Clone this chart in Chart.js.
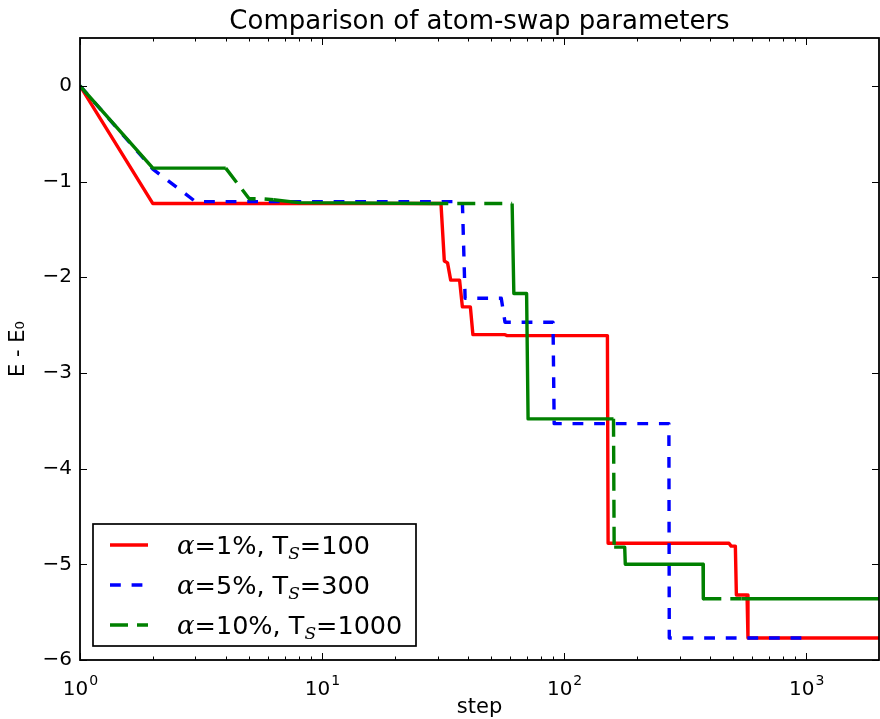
<!DOCTYPE html>
<html>
<head>
<meta charset="utf-8">
<script src="https://cdn.jsdelivr.net/npm/chart.js@4"></script>
<style>
  body { margin: 0; background: #fff; }
  canvas { display: block; }
</style>
</head>
<body>
<canvas class="swapChart" width="880" height="719"></canvas>
<script>
// energy traces (E - E0) against MC step, one per parameter set
const stepsRed = [1, 2, 31, 32, 33, 34, 37, 38, 41, 42, 57, 58, 151, 152, 480, 490, 510, 515, 570, 575, 2000];
const energyRed = [0, -1.23, -1.23, -1.83, -1.85, -2.03, -2.03, -2.31, -2.31, -2.6, -2.6, -2.61, -2.61, -4.78, -4.78, -4.81, -4.81, -5.32, -5.32, -5.77, -5.77];

const stepsBlue = [1, 2, 3, 38, 39, 55, 57, 90, 91, 271, 272, 1000];
const energyBlue = [0, -0.87, -1.21, -1.21, -2.22, -2.22, -2.47, -2.47, -3.53, -3.53, -5.77, -5.77];

const stepsGreen = [1, 2, 4, 5, 5.6, 6.3, 8, 28, 61, 62, 70, 71, 160, 161, 178, 179, 375, 376, 540, 2000];
const energyGreen = [0, -0.86, -0.86, -1.18, -1.18, -1.19, -1.22, -1.23, -1.23, -2.17, -2.17, -3.48, -3.48, -4.82, -4.82, -5.0, -5.0, -5.36, -5.36, -5.36];

const alphaLabels = ["1%", "5%", "10%"];
const tempLabels = ["100", "300", "1000"];

const xTicks = [1, 10, 100, 1000];
const yTicks = [-6, -5, -4, -3, -2, -1, 0];

// where the green trace shows its dash pattern (segment start indices)
const greenDashed = [2, 3, 4, 7, 12, 17];

const SANS = '"DejaVu Sans"';
const toPoints = (xs, ys) => xs.map((x, i) => ({ x, y: ys[i] }));

const colors = ["#ff0000", "#0000ff", "#008000"];
const dashes = [[], [10.8, 10.8], [18, 9]];

const decorations = {
  id: "decorations",
  afterDatasetsDraw(chart) {
    const { ctx, chartArea, scales } = chart;
    const { left, right, top, bottom } = chartArea;
    const x = scales.x;
    const y = scales.y;
    ctx.save();

    const line = (x1, y1, x2, y2) => {
      ctx.beginPath();
      ctx.moveTo(x1, y1);
      ctx.lineTo(x2, y2);
      ctx.stroke();
    };

    // inward ticks on every side
    ctx.strokeStyle = "#000";
    ctx.lineWidth = 1;
    yTicks.forEach((v) => {
      const py = Math.round(y.getPixelForValue(v)) + 0.5;
      line(left, py, left + 7, py);
      line(right, py, right - 7, py);
    });
    for (let d = 1; d < x.max; d *= 10) {
      for (let m = 1; m < 10; m++) {
        const v = d * m;
        if (v >= x.max) break;
        const len = m === 1 ? 7 : 3.5;
        const px = Math.round(x.getPixelForValue(v)) + 0.5;
        line(px, bottom, px, bottom - len);
        line(px, top, px, top + len);
      }
    }

    ctx.lineWidth = 1.8;
    ctx.strokeRect(left, top, right - left, bottom - top);

    // 10^k labels
    ctx.fillStyle = "#000";
    ctx.textBaseline = "alphabetic";
    ctx.textAlign = "left";
    xTicks.forEach((v) => {
      const exp = String(Math.round(Math.log10(v)));
      ctx.font = `20px ${SANS}`;
      const wb = ctx.measureText("10").width;
      ctx.font = `14px ${SANS}`;
      const we = ctx.measureText(exp).width;
      const x0 = x.getPixelForValue(v) - (wb + we) / 2;
      ctx.font = `20px ${SANS}`;
      ctx.fillText("10", x0, 695);
      ctx.font = `14px ${SANS}`;
      ctx.fillText(exp, x0 + wb + 1, 685);
    });

    // title
    ctx.font = `26px ${SANS}`;
    ctx.textAlign = "center";
    ctx.fillText("Comparison of atom-swap parameters", (left + right) / 2, 29);

    // legend
    const box = { x: 93, y: 524, w: 323, h: 122 };
    ctx.fillStyle = "#fff";
    ctx.fillRect(box.x, box.y, box.w, box.h);
    ctx.strokeStyle = "#000";
    ctx.lineWidth = 1.7;
    ctx.strokeRect(box.x, box.y, box.w, box.h);

    chart.data.datasets.forEach((ds, i) => {
      const rowY = box.y + 21 + i * 40;
      ctx.strokeStyle = ds.borderColor;
      ctx.lineWidth = ds.borderWidth;
      ctx.setLineDash(dashes[i]);
      line(110, rowY, 148, rowY);
      ctx.setLineDash([]);

      const parts = [
        { t: "α", font: `italic 26px "DejaVu Serif"`, dy: 0 },
        { t: `=${alphaLabels[i]}, T`, font: `25.5px ${SANS}`, dy: 0 },
        { t: "S", font: `italic 17px "DejaVu Serif"`, dy: 5 },
        { t: `=${tempLabels[i]}`, font: `25.5px ${SANS}`, dy: 0 },
      ];
      let tx = 177;
      ctx.fillStyle = "#000";
      ctx.textAlign = "left";
      parts.forEach((p) => {
        ctx.font = p.font;
        ctx.fillText(p.t, tx, rowY + 9 + p.dy);
        tx += ctx.measureText(p.t).width;
      });
    });

    ctx.restore();
  },
};

const ctx = document.querySelector(".swapChart").getContext("2d");

const chart = new Chart(ctx, {
  type: "line",
  data: {
    datasets: [
      { label: "red", data: toPoints(stepsRed, energyRed), order: 3 },
      { label: "blue", data: toPoints(stepsBlue, energyBlue), order: 2 },
      {
        label: "green",
        data: toPoints(stepsGreen, energyGreen),
        order: 1,
        segment: {
          borderDash: (c) => (greenDashed.includes(c.p0DataIndex) ? dashes[2] : undefined),
        },
      },
    ].map((ds, i) => ({
      borderColor: colors[i],
      borderWidth: 3.4,
      borderDash: i === 1 ? dashes[1] : [],
      borderJoinStyle: "round",
      pointRadius: 0,
      fill: false,
      tension: 0,
      ...ds,
    })),
  },
  options: {
    responsive: false,
    animation: false,
    events: [],
    layout: { padding: { top: 38, right: 1, left: 0, bottom: 0 } },
    plugins: {
      legend: { display: false },
      tooltip: { enabled: false },
      title: { display: false },
    },
    scales: {
      x: {
        type: "logarithmic",
        min: 1,
        max: 2000,
        grid: { display: false, drawTicks: false },
        border: { display: false },
        ticks: { display: false },
        afterFit: (s) => { s.height = 59; },
        title: {
          display: true,
          text: "step",
          color: "#000",
          font: { family: "DejaVu Sans", size: 21 },
          padding: { top: 0, bottom: -1 },
        },
      },
      y: {
        type: "linear",
        min: -6,
        max: 0.5,
        grid: { display: false, drawTicks: false },
        border: { display: false },
        afterBuildTicks: (s) => { s.ticks = yTicks.map((v) => ({ value: v })); },
        afterFit: (s) => { s.width = 80; },
        ticks: {
          color: "#000",
          padding: 8,
          font: { family: "DejaVu Sans", size: 20 },
          callback: (v) => (v < 0 ? "\u2212" + Math.abs(v) : String(v)),
        },
        title: {
          display: true,
          text: "E - E\u2080",
          color: "#000",
          font: { family: "DejaVu Sans", size: 21 },
          padding: { top: 6, bottom: 0 },
        },
      },
    },
  },
  plugins: [decorations],
});
</script>
</body>
</html>
